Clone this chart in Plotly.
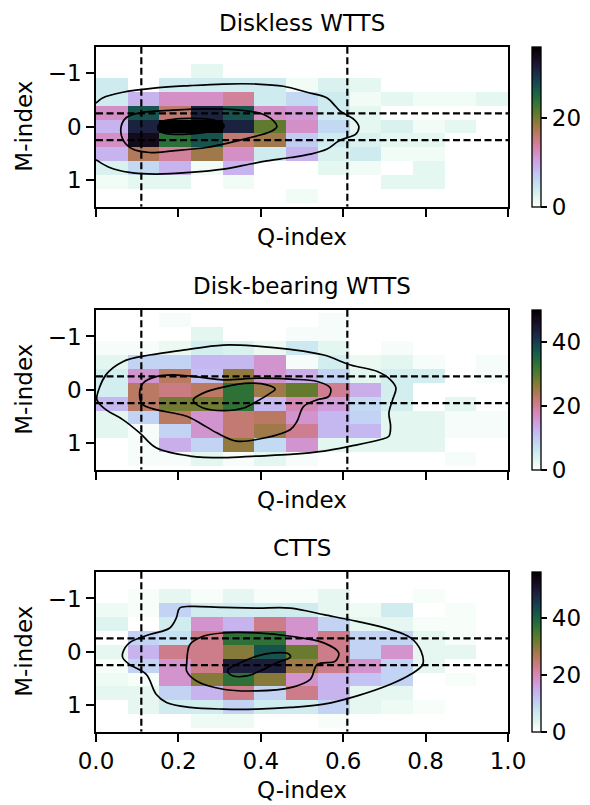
import numpy as np
import plotly.graph_objects as go

# ---------------- data ----------------
TITLES = ["Diskless WTTS", "Disk-bearing WTTS", "CTTS"]
Q_EDGES = list(np.linspace(0.0, 1.0, 14))
M_EDGES = list(np.linspace(-1.7, 1.7, 14))
ZMAX = [36, 50, 56]
CBAR_TICKS = [[0, 20], [0, 20, 40], [0, 20, 40]]
Q_THRESH = [0.11, 0.61]
M_THRESH = [-0.25, 0.25]
X_TICKS = [0.0, 0.2, 0.4, 0.6, 0.8, 1.0]
X_TICKTEXT = ["0.0", "0.2", "0.4", "0.6", "0.8", "1.0"]
Y_TICKS = [-1, 0, 1]
Y_TICKTEXT = ["\u22121", "0", "1"]

counts_diskless = [
    [0, 0, 0, 0, 0, 0, 0, 0, 0, 0, 0, 0, 0],
    [0, 0, 0, 0, 0, 0, 0, 0, 0, 0, 0, 0, 0],
    [0, 0, 0, 2, 0, 0, 0, 0, 0, 0, 0, 0, 0],
    [4, 0, 4, 4, 4, 4, 1, 3, 2, 0, 0, 0, 0],
    [4, 9, 12, 12, 14, 4, 6, 4, 1, 2, 1, 1, 2],
    [12, 27, 16, 31, 27, 12, 11, 4, 2, 0, 0, 0, 0],
    [9, 31, 36, 36, 31, 21, 12, 6, 2, 3, 1, 2, 0],
    [12, 34, 24, 27, 16, 18, 7, 4, 3, 2, 2, 0, 0],
    [9, 17, 14, 18, 12, 4, 9, 3, 4, 1, 1, 0, 0],
    [3, 6, 9, 1, 9, 0, 0, 2, 1, 0, 2, 0, 0],
    [1, 2, 2, 0, 1, 0, 0, 0, 0, 2, 2, 0, 0],
    [0, 0, 0, 0, 0, 0, 1, 0, 0, 0, 0, 0, 0],
    [0, 0, 0, 0, 0, 0, 0, 0, 0, 0, 0, 0, 0],
]
counts_diskbearing = [
    [0, 0, 0, 0, 0, 0, 0, 0, 0, 0, 0, 0, 0],
    [0, 0, 1, 0, 0, 0, 0, 1, 0, 0, 0, 0, 0],
    [0, 0, 0, 3, 0, 0, 1, 1, 0, 0, 0, 0, 0],
    [1, 1, 2, 5, 4, 2, 6, 3, 0, 1, 0, 0, 0],
    [3, 9, 9, 12, 12, 16, 1, 5, 2, 3, 1, 0, 1],
    [5, 16, 23, 11, 26, 16, 13, 9, 3, 5, 5, 0, 1],
    [5, 23, 21, 23, 33, 25, 29, 20, 13, 5, 0, 0, 0],
    [12, 23, 28, 28, 33, 12, 18, 15, 8, 5, 0, 3, 0],
    [3, 9, 23, 16, 22, 23, 16, 12, 9, 3, 3, 1, 1],
    [3, 1, 9, 16, 22, 25, 20, 12, 12, 3, 3, 1, 1],
    [0, 1, 13, 9, 26, 8, 16, 3, 3, 3, 3, 0, 0],
    [0, 1, 1, 3, 1, 3, 1, 0, 0, 0, 0, 1, 0],
    [0, 0, 0, 0, 0, 0, 0, 0, 0, 0, 0, 0, 0],
]
counts_ctts = [
    [0, 0, 0, 0, 0, 0, 0, 0, 0, 0, 0, 0, 0],
    [0, 0, 0, 0, 0, 0, 0, 0, 0, 0, 0, 0, 0],
    [0, 1, 3, 1, 3, 1, 1, 3, 0, 0, 1, 0, 0],
    [2, 1, 10, 6, 6, 6, 6, 3, 2, 6, 0, 1, 0],
    [4, 0, 6, 18, 14, 23, 18, 10, 3, 3, 1, 1, 0],
    [0, 10, 8, 23, 37, 37, 18, 23, 10, 10, 3, 1, 0],
    [3, 14, 23, 23, 30, 42, 32, 23, 10, 18, 3, 3, 0],
    [1, 10, 18, 23, 49, 49, 28, 23, 18, 10, 3, 0, 0],
    [2, 1, 18, 30, 37, 30, 18, 14, 12, 10, 0, 1, 0],
    [3, 3, 10, 14, 23, 10, 23, 14, 3, 3, 0, 0, 0],
    [0, 3, 6, 6, 10, 6, 6, 10, 3, 2, 1, 0, 0],
    [0, 0, 0, 2, 2, 0, 0, 1, 0, 0, 0, 0, 0],
    [0, 0, 0, 0, 0, 0, 0, 0, 0, 0, 0, 0, 0],
]
COUNTS = [counts_diskless, counts_diskbearing, counts_ctts]

# contour lines (Q, M)
c1_outer_q = [0.0, 0.016, 0.065, 0.146, 0.228, 0.309, 0.39, 0.455, 0.512, 0.561, 0.581, 0.593, 0.626, 0.638, 0.63, 0.61, 0.589, 0.561, 0.52, 0.472, 0.415, 0.374, 0.309, 0.228, 0.146, 0.081, 0.033, 0.004, -0.03, -0.03, 0.0]
c1_outer_m = [-0.447, -0.54, -0.646, -0.727, -0.77, -0.80, -0.80, -0.758, -0.646, -0.54, -0.385, -0.29, -0.137, 0.0, 0.143, 0.205, 0.267, 0.42, 0.515, 0.578, 0.64, 0.70, 0.795, 0.857, 0.888, 0.857, 0.764, 0.64, 0.45, -0.3, -0.447]
c1_mid_q = [0.061, 0.073, 0.106, 0.187, 0.268, 0.35, 0.407, 0.435, 0.439, 0.427, 0.39, 0.325, 0.268, 0.187, 0.13, 0.089, 0.065, 0.061]
c1_mid_m = [0.0, -0.168, -0.26, -0.31, -0.335, -0.31, -0.23, -0.075, 0.0, 0.08, 0.174, 0.298, 0.39, 0.453, 0.484, 0.42, 0.236, 0.0]
c1_in_q = [0.150, 0.159, 0.187, 0.228, 0.276, 0.305, 0.311, 0.301, 0.26, 0.211, 0.171, 0.154, 0.150]
c1_in_m = [0.019, -0.087, -0.137, -0.155, -0.137, -0.075, -0.012, 0.062, 0.112, 0.143, 0.13, 0.081, 0.019]

c2_outer_q = [0.0016, 0.024, 0.065, 0.13, 0.211, 0.309, 0.39, 0.472, 0.553, 0.618, 0.683, 0.715, 0.728, 0.72, 0.711, 0.715, 0.711, 0.691, 0.618, 0.553, 0.472, 0.39, 0.309, 0.228, 0.146, 0.106, 0.065, 0.024, 0.004, 0.0016]
c2_outer_m = [0.155, -0.28, -0.528, -0.652, -0.745, -0.839, -0.82, -0.758, -0.652, -0.466, -0.342, -0.186, -0.031, 0.186, 0.435, 0.683, 0.87, 0.932, 1.056, 1.149, 1.211, 1.242, 1.273, 1.242, 1.087, 0.807, 0.559, 0.373, 0.217, 0.155]
c2_mid_q = [0.106, 0.114, 0.146, 0.187, 0.252, 0.309, 0.39, 0.472, 0.537, 0.569, 0.565, 0.537, 0.504, 0.488, 0.472, 0.39, 0.341, 0.293, 0.252, 0.22, 0.187, 0.146, 0.114, 0.106]
c2_mid_m = [0.124, -0.124, -0.248, -0.28, -0.236, -0.186, -0.217, -0.199, -0.155, -0.031, 0.124, 0.186, 0.311, 0.59, 0.745, 0.932, 0.963, 0.807, 0.621, 0.497, 0.435, 0.373, 0.28, 0.124]
c2_in_q = [0.236, 0.26, 0.309, 0.374, 0.415, 0.435, 0.423, 0.39, 0.358, 0.309, 0.26, 0.24, 0.236]
c2_in_m = [0.186, 0.062, -0.05, -0.124, -0.093, -0.012, 0.062, 0.217, 0.342, 0.391, 0.342, 0.248, 0.186]

c3_outer_q = [0.065, 0.081, 0.13, 0.179, 0.195, 0.203, 0.228, 0.309, 0.39, 0.472, 0.553, 0.634, 0.715, 0.764, 0.789, 0.793, 0.764, 0.715, 0.634, 0.553, 0.472, 0.39, 0.309, 0.228, 0.171, 0.146, 0.122, 0.081, 0.065, 0.065]
c3_outer_m = [0.019, -0.168, -0.323, -0.447, -0.634, -0.82, -0.851, -0.832, -0.82, -0.82, -0.696, -0.571, -0.416, -0.261, -0.012, 0.236, 0.422, 0.609, 0.826, 0.981, 1.043, 1.075, 1.075, 1.043, 0.95, 0.795, 0.422, 0.236, 0.112, 0.019]
c3_mid_q = [0.22, 0.228, 0.26, 0.309, 0.39, 0.472, 0.553, 0.589, 0.581, 0.537, 0.52, 0.472, 0.39, 0.309, 0.244, 0.22, 0.22]
c3_mid_m = [0.236, -0.137, -0.292, -0.354, -0.354, -0.292, -0.168, 0.019, 0.174, 0.236, 0.516, 0.671, 0.733, 0.702, 0.547, 0.36, 0.236]
c3_in_q = [0.321, 0.35, 0.39, 0.431, 0.467, 0.472, 0.439, 0.407, 0.366, 0.333, 0.321, 0.321]
c3_in_m = [0.329, 0.205, 0.081, 0.019, 0.037, 0.099, 0.205, 0.329, 0.453, 0.453, 0.391, 0.329]

CONTOURS = [
    [(c1_outer_q, c1_outer_m), (c1_mid_q, c1_mid_m), (c1_in_q, c1_in_m)],
    [(c2_outer_q, c2_outer_m), (c2_mid_q, c2_mid_m), (c2_in_q, c2_in_m)],
    [(c3_outer_q, c3_outer_m), (c3_mid_q, c3_mid_m), (c3_in_q, c3_in_m)],
]

# ---------------- style ----------------
W, H = 590, 805
FONT = "DejaVu Sans"
FS = 23


def cubehelix_r(n=64):
    stops = []
    for i in range(n):
        t = i / (n - 1)
        x = 1.0 - t
        a = x * (1 - x) / 2
        phi = 2 * np.pi * (0.5 / 3 - 1.5 * x)
        r = x + a * (-0.14861 * np.cos(phi) + 1.78277 * np.sin(phi))
        g = x + a * (-0.29227 * np.cos(phi) - 0.90649 * np.sin(phi))
        b = x + a * (1.97294 * np.cos(phi))
        r, g, b = [min(1, max(0, v)) for v in (r, g, b)]
        stops.append([t, f"rgb({int(round(r*255))},{int(round(g*255))},{int(round(b*255))})"])
    return stops


CS = cubehelix_r()

# pixel geometry of the axes boxes
AX_L, AX_R = 96, 508
AX_TOP = [46.7, 309.8, 571.8]
AX_H = 160
CB_X = 532
CB_W = 9


def py(p):
    return 1 - p / H


fig = go.Figure()
annotations = []
for k in range(3):
    xa = "x" if k == 0 else f"x{k+1}"
    ya = "y" if k == 0 else f"y{k+1}"
    top = AX_TOP[k]
    bot = top + AX_H
    fig.add_trace(go.Heatmap(
        x=Q_EDGES, y=M_EDGES, z=COUNTS[k], zmin=0, zmax=ZMAX[k],
        colorscale=CS, xaxis=xa, yaxis=ya, hoverinfo="skip",
        colorbar=dict(
            x=CB_X / W, xanchor="left", xref="paper",
            y=py((top + bot) / 2), yanchor="middle",
            len=AX_H / H, lenmode="fraction", thickness=CB_W, thicknessmode="pixels",
            outlinecolor="black", outlinewidth=1.3, xpad=0, ypad=0,
            tickvals=CBAR_TICKS[k], ticks="outside", ticklen=6, tickwidth=1.5,
            tickcolor="black", tickfont=dict(family=FONT, size=FS, color="black"),
        ),
    ))
    for (cq, cm) in CONTOURS[k]:
        fig.add_trace(go.Scatter(
            x=cq, y=cm, mode="lines", xaxis=xa, yaxis=ya,
            line=dict(color="black", width=1.7, shape="spline", smoothing=1.0),
            showlegend=False, hoverinfo="skip",
        ))
    for q in Q_THRESH:
        fig.add_trace(go.Scatter(
            x=[q, q], y=[-1.5, 1.5], mode="lines", xaxis=xa, yaxis=ya,
            line=dict(color="black", width=2.2, dash="7px,3.5px"),
            showlegend=False, hoverinfo="skip",
        ))
    for m in M_THRESH:
        fig.add_trace(go.Scatter(
            x=[0, 1], y=[m, m], mode="lines", xaxis=xa, yaxis=ya,
            line=dict(color="black", width=2.2, dash="7px,3.5px"),
            showlegend=False, hoverinfo="skip",
        ))

    xkey = "xaxis" if k == 0 else f"xaxis{k+1}"
    ykey = "yaxis" if k == 0 else f"yaxis{k+1}"
    fig.layout[xkey] = dict(
        domain=[AX_L / W, AX_R / W], anchor=ya, range=[0, 1],
        tickvals=X_TICKS, ticktext=X_TICKTEXT, showticklabels=(k == 2),
        ticks="outside", ticklen=8, tickwidth=1.5, tickcolor="black",
        showline=True, mirror=True, linecolor="black", linewidth=1.6,
        showgrid=False, zeroline=False, automargin=False,
        tickfont=dict(family=FONT, size=FS, color="black"),
    )
    fig.layout[ykey] = dict(
        domain=[py(bot), py(top)], anchor=xa, range=[1.5, -1.5],
        tickvals=Y_TICKS, ticktext=Y_TICKTEXT,
        ticks="outside", ticklen=8, tickwidth=1.5, tickcolor="black",
        showline=True, mirror=True, linecolor="black", linewidth=1.6,
        showgrid=False, zeroline=False, automargin=False,
        tickfont=dict(family=FONT, size=FS, color="black"),
    )
    # title
    annotations.append(dict(
        text=TITLES[k], x=(AX_L + AX_R) / 2 / W, y=py(top - 24), xref="paper", yref="paper",
        showarrow=False, xanchor="center", yanchor="middle",
        font=dict(family=FONT, size=FS, color="black"),
    ))
    # y label
    annotations.append(dict(
        text="M-index", x=24 / W, y=py((top + bot) / 2), xref="paper", yref="paper",
        showarrow=False, xanchor="center", yanchor="middle", textangle=-90,
        font=dict(family=FONT, size=FS, color="black"),
    ))
    # x label
    xl_y = bot + 30 if k < 2 else bot + 58
    annotations.append(dict(
        text="Q-index", x=(AX_L + AX_R) / 2 / W, y=py(xl_y), xref="paper", yref="paper",
        showarrow=False, xanchor="center", yanchor="middle",
        font=dict(family=FONT, size=FS, color="black"),
    ))

fig.update_layout(
    width=W, height=H, margin=dict(l=0, r=0, t=0, b=0, autoexpand=False),
    paper_bgcolor="white", plot_bgcolor="white",
    showlegend=False, annotations=annotations,
    font=dict(family=FONT, size=FS, color="black"),
)
fig.write_html(
    "out.html",
    config={"displayModeBar": False},
    post_script="document.body.style.margin='0px';document.body.style.overflow='hidden';",
)
